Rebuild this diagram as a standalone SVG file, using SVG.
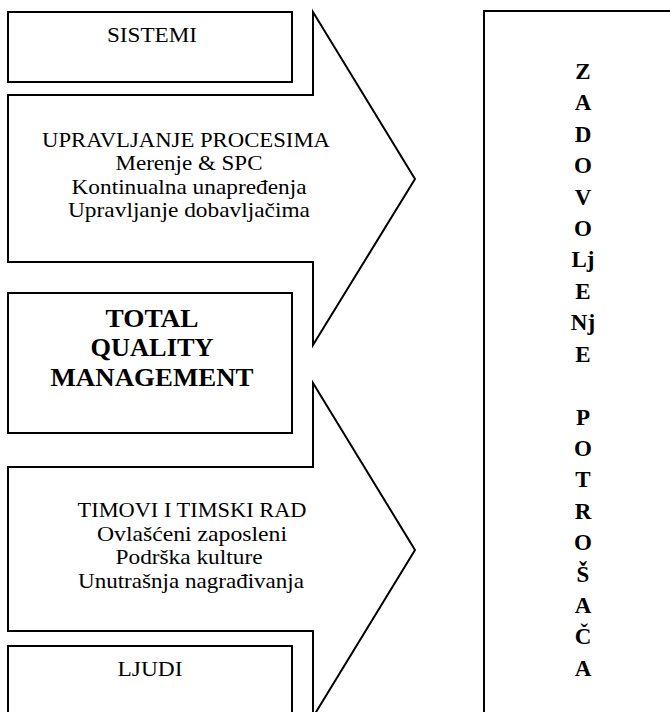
<svg xmlns="http://www.w3.org/2000/svg" width="670" height="712" viewBox="0 0 670 712">
<style>
.s{fill:#fff;stroke:#000;stroke-width:2}
.t{font-family:"Liberation Serif","Times New Roman",serif;font-size:22px;fill:#000;text-anchor:middle}
.b{font-family:"Liberation Serif","Times New Roman",serif;font-size:25px;font-weight:bold;fill:#000;text-anchor:middle}
.v{font-family:"Liberation Serif","Times New Roman",serif;font-size:23px;font-weight:bold;fill:#000;text-anchor:middle}
</style>
<rect width="670" height="712" fill="#fff"/>
<g id="arrow-procesi">
<polygon class="s" points="8,95 313,95 313,12 415,179 313,345 313,262 8,262"/>
<text class="t" x="186" y="147" textLength="288" lengthAdjust="spacingAndGlyphs">UPRAVLJANJE PROCESIMA</text>
<text class="t" x="189" y="170" textLength="147" lengthAdjust="spacingAndGlyphs">Merenje &amp; SPC</text>
<text class="t" x="189" y="194" textLength="235" lengthAdjust="spacingAndGlyphs">Kontinualna unapređenja</text>
<text class="t" x="189" y="217" textLength="242" lengthAdjust="spacingAndGlyphs">Upravljanje dobavljačima</text>
</g>
<g id="arrow-timovi">
<polygon class="s" points="8,467 313,467 313,383 415,550 313,717 313,631 8,631"/>
<text class="t" x="192" y="517" textLength="229" lengthAdjust="spacingAndGlyphs">TIMOVI I TIMSKI RAD</text>
<text class="t" x="192" y="541" textLength="190" lengthAdjust="spacingAndGlyphs">Ovlašćeni zaposleni</text>
<text class="t" x="189" y="564" textLength="147" lengthAdjust="spacingAndGlyphs">Podrška kulture</text>
<text class="t" x="191" y="588" textLength="226" lengthAdjust="spacingAndGlyphs">Unutrašnja nagrađivanja</text>
</g>
<g id="sistemi">
<rect class="s" x="8" y="12" width="284" height="70"/>
<text class="t" x="152" y="42" textLength="90" lengthAdjust="spacingAndGlyphs">SISTEMI</text>
</g>
<g id="tqm">
<rect class="s" x="8" y="293" width="284" height="140"/>
<text class="b" x="152" y="327" textLength="93" lengthAdjust="spacingAndGlyphs">TOTAL</text>
<text class="b" x="152" y="356" textLength="123" lengthAdjust="spacingAndGlyphs">QUALITY</text>
<text class="b" x="152" y="386" textLength="203" lengthAdjust="spacingAndGlyphs">MANAGEMENT</text>
</g>
<g id="ljudi">
<rect class="s" x="8" y="646" width="284" height="80"/>
<text class="t" x="150" y="676" textLength="65" lengthAdjust="spacingAndGlyphs">LJUDI</text>
</g>
<g id="zadovoljenje">
<rect class="s" x="484" y="11" width="200" height="720"/>
<text class="v" x="583" y="79">Z</text>
<text class="v" x="583" y="110">A</text>
<text class="v" x="583" y="142">D</text>
<text class="v" x="583" y="173">O</text>
<text class="v" x="583" y="205">V</text>
<text class="v" x="583" y="236">O</text>
<text class="v" x="583" y="267">Lj</text>
<text class="v" x="583" y="299">E</text>
<text class="v" x="583" y="330">Nj</text>
<text class="v" x="583" y="362">E</text>
<text class="v" x="583" y="425">P</text>
<text class="v" x="583" y="456">O</text>
<text class="v" x="583" y="487">T</text>
<text class="v" x="583" y="519">R</text>
<text class="v" x="583" y="550">O</text>
<text class="v" x="583" y="582">Š</text>
<text class="v" x="583" y="613">A</text>
<text class="v" x="583" y="644">Č</text>
<text class="v" x="583" y="676">A</text>
</g>
</svg>
